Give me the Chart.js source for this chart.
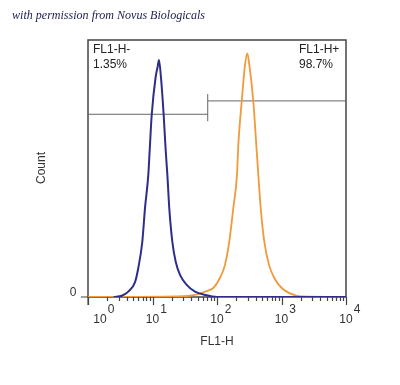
<!DOCTYPE html>
<html>
<head>
<meta charset="utf-8">
<script src="https://cdn.jsdelivr.net/npm/chart.js@4.4.1/dist/chart.umd.min.js"></script>
<style>
  html, body { margin: 0; padding: 0; background: #fff; }
  #wrap { width: 400px; height: 385px; }
</style>
</head>
<body>
<div id="wrap"><canvas id="chart" width="400" height="385"></canvas></div>
<script>
// histogram values (x = FL1-H, y = relative count)
const negX = [2.5, 3.33, 4.21, 5.36, 6.02, 6.95, 7.65, 8.61, 9.05, 9.72, 11.2, 12.0, 12.6, 13.5, 14.9, 16.0, 17.0, 18.2, 20.3, 22.9, 26.7, 33.9, 45.6, 65.2, 100, 10000];
const negY = [0, 0.5, 2.1, 5.8, 11.3, 21.5, 34.6, 47.5, 57.2, 70.8, 85.7, 89.5, 92.2, 85.7, 70.8, 57.2, 47.5, 34.6, 21.5, 13.7, 8.6, 4.7, 2.1, 0.8, 0, 0];

const posX = [1, 24.8, 45.6, 65.2, 87.7, 111, 133, 155, 179, 204, 214, 242, 272, 295, 317, 365, 407, 437, 476, 541, 640, 773, 1007, 1355, 2057, 10000];
const posY = [0, 0.2, 0.8, 2.1, 3.5, 7.4, 12.5, 21.5, 34.6, 47.5, 59.1, 76.3, 90.3, 94.8, 90.3, 76.3, 59.1, 47.5, 34.6, 21.5, 12.5, 7.4, 3.5, 1.4, 0.2, 0];

// gates
const gateSplit = 71.8;
const gateNegY = 71.1;
const gatePosY = 76.3;
const gateLabels = [['FL1-H-', '1.35%'], ['FL1-H+', '98.7%']];

// axis ticks
const decadeValues = [1, 10, 100, 1000, 10000];
const decadeExponents = ['0', '1', '2', '3', '4'];
const minorSteps = [2, 3, 4, 5, 6, 7, 8, 9];

const toPoints = (xs, ys) => xs.map((x, i) => ({ x: x, y: ys[i] }));

const FONT = '"Liberation Sans", Arial, sans-serif';
const TEXT = '#333333';

const histAxes = {
  id: 'histAxes',
  beforeDatasetsDraw(chart) {
    const { ctx, chartArea: a, scales: { x } } = chart;
    ctx.save();
    ctx.strokeStyle = '#444444';
    ctx.lineWidth = 1.5;
    ctx.strokeRect(a.left, a.top, a.right - a.left, a.bottom - a.top);
    // axis extensions
    ctx.lineWidth = 1.2;
    ctx.beginPath();
    ctx.moveTo(a.left, a.bottom);
    ctx.lineTo(a.left, a.bottom + 8);
    ctx.moveTo(a.left - 7, a.bottom);
    ctx.lineTo(a.left, a.bottom);
    // x ticks
    decadeValues.forEach((v, i) => {
      const px = Math.round(x.getPixelForValue(v)) + 0.5;
      ctx.moveTo(px, a.bottom);
      ctx.lineTo(px, a.bottom + 8);
      if (i < decadeValues.length - 1) {
        minorSteps.forEach(m => {
          const mx = Math.round(x.getPixelForValue(v * m)) + 0.5;
          ctx.moveTo(mx, a.bottom);
          ctx.lineTo(mx, a.bottom + 4);
        });
      }
    });
    ctx.stroke();
    ctx.restore();
  },
  afterDraw(chart) {
    const { ctx, chartArea: a, scales: { x } } = chart;
    ctx.save();
    ctx.fillStyle = TEXT;
    ctx.font = '12px ' + FONT;

    // x tick labels: 10 with exponent
    ctx.textBaseline = 'middle';
    decadeValues.forEach((v, i) => {
      let cx = x.getPixelForValue(v);
      if (i === 0) cx += 12;
      const w = ctx.measureText('10').width;
      ctx.textAlign = 'left';
      ctx.fillText('10', cx - w / 2, 320);
      ctx.fillText(decadeExponents[i], cx + w / 2 + 1, 310);
    });

    // y zero label
    ctx.textAlign = 'center';
    ctx.fillText('0', a.left - 15, a.bottom - 4);

    // axis titles
    ctx.fillText('FL1-H', (a.left + a.right) / 2, 342);
    ctx.save();
    ctx.translate(42, 168);
    ctx.rotate(-Math.PI / 2);
    ctx.fillText('Count', 0, 0);
    ctx.restore();

    // gate labels
    ctx.textAlign = 'left';
    ctx.fillStyle = '#222222';
    ctx.fillText(gateLabels[0][0], a.left + 5, 50);
    ctx.fillText(gateLabels[0][1], a.left + 5, 65);
    ctx.fillText(gateLabels[1][0], 299, 50);
    ctx.fillText(gateLabels[1][1], 299, 65);

    // source note
    const note = 'with permission from Novus Biologicals';
    ctx.font = 'italic 12px "Liberation Serif", serif';
    const nw = ctx.measureText(note).width;
    const size = 12 * 193 / nw;
    ctx.font = 'italic ' + size.toFixed(2) + 'px "Liberation Serif", serif';
    ctx.fillStyle = '#1c1c50';
    ctx.textBaseline = 'alphabetic';
    ctx.fillText(note, 12, 19);
    ctx.restore();
  }
};

const gateStyle = {
  type: 'line',
  borderColor: '#666666',
  borderWidth: 1,
  pointRadius: 0,
  tension: 0,
  fill: false
};

new Chart(document.getElementById('chart'), {
  type: 'line',
  data: {
    datasets: [
      {
        label: 'FL1-H- control',
        data: toPoints(negX, negY),
        borderColor: '#2e2e8a',
        borderWidth: 2,
        pointRadius: 0,
        cubicInterpolationMode: 'monotone',
        fill: false
      },
      {
        label: 'FL1-H+ stained',
        data: toPoints(posX, posY),
        borderColor: '#f09a3a',
        borderWidth: 1.8,
        pointRadius: 0,
        cubicInterpolationMode: 'monotone',
        fill: false
      },
      Object.assign({ label: 'gate -', data: [{ x: 1, y: gateNegY }, { x: gateSplit, y: gateNegY }] }, gateStyle),
      Object.assign({ label: 'gate - end', data: [{ x: gateSplit, y: gateNegY - 2.7 }, { x: gateSplit, y: gateNegY + 2.7 }] }, gateStyle),
      Object.assign({ label: 'gate +', data: [{ x: gateSplit, y: gatePosY }, { x: 10000, y: gatePosY }] }, gateStyle),
      Object.assign({ label: 'gate + end', data: [{ x: gateSplit, y: gatePosY - 2.7 }, { x: gateSplit, y: gatePosY + 2.7 }] }, gateStyle)
    ]
  },
  options: {
    responsive: false,
    animation: false,
    layout: { padding: { left: 88, top: 40, right: 54, bottom: 88 } },
    scales: {
      x: { type: 'logarithmic', min: 1, max: 10000, display: false },
      y: { type: 'linear', min: 0, max: 100, display: false }
    },
    plugins: {
      legend: { display: false },
      tooltip: { enabled: false }
    }
  },
  plugins: [histAxes]
});
</script>
</body>
</html>
